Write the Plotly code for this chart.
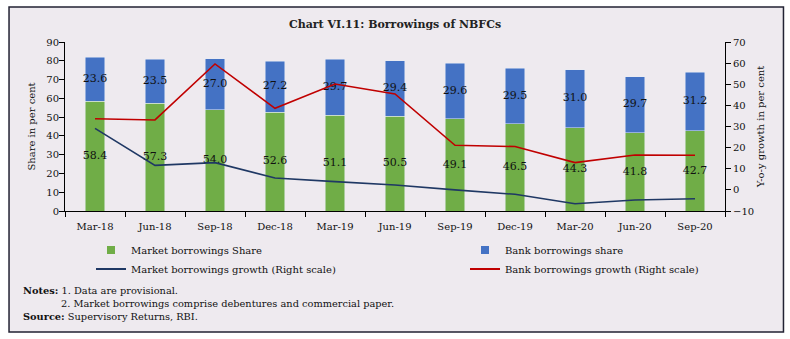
import plotly.graph_objects as go

# Quarter-end periods
periods = ["Mar-18", "Jun-18", "Sep-18", "Dec-18", "Mar-19", "Jun-19",
           "Sep-19", "Dec-19", "Mar-20", "Jun-20", "Sep-20"]

# Shares in total borrowings (per cent)
market_share = [58.4, 57.3, 54.0, 52.6, 51.1, 50.5, 49.1, 46.5, 44.3, 41.8, 42.7]
bank_share = [23.6, 23.5, 27.0, 27.2, 29.7, 29.4, 29.6, 29.5, 31.0, 29.7, 31.2]

# Year-on-year growth (per cent, right scale)
market_growth = [29.1, 11.6, 12.9, 5.6, 3.9, 2.3, 0.0, -2.1, -6.6, -4.8, -4.2]
bank_growth = [33.7, 33.1, 59.6, 38.6, 50.1, 45.4, 21.1, 20.5, 12.9, 16.5, 16.4]

GREEN = "#70AD47"
BLUE = "#4472C4"
NAVY = "#1F3864"
RED = "#C00000"
BG = "#EEEAEF"
FONT = "DejaVu Serif"

fig = go.Figure()

fig.add_trace(go.Bar(x=periods, y=market_share, marker_color=GREEN, width=0.32,
                     name="Market borrowings Share", showlegend=False))
fig.add_trace(go.Bar(x=periods, y=bank_share, marker_color=BLUE, width=0.32,
                     name="Bank borrowings share", showlegend=False))

# Value labels centred in each stacked segment
fig.add_trace(go.Scatter(
    x=periods, y=[m / 2 for m in market_share], mode="text",
    text=[f"{v:.1f}" for v in market_share],
    textfont=dict(family=FONT, size=11, color="#111111"),
    showlegend=False, hoverinfo="skip"))
fig.add_trace(go.Scatter(
    x=periods, y=[m + b / 2 for m, b in zip(market_share, bank_share)], mode="text",
    text=[f"{v:.1f}" for v in bank_share],
    textfont=dict(family=FONT, size=11, color="#111111"),
    showlegend=False, hoverinfo="skip"))

fig.add_trace(go.Scatter(x=periods, y=market_growth, yaxis="y2", mode="lines",
                         line=dict(color=NAVY, width=1.6), showlegend=False,
                         name="Market borrowings growth (Right scale)"))
fig.add_trace(go.Scatter(x=periods, y=bank_growth, yaxis="y2", mode="lines",
                         line=dict(color=RED, width=1.6), showlegend=False,
                         name="Bank borrowings growth (Right scale)"))

# Legend entries: market series in the left legend, bank series in the right one
fig.add_trace(go.Scatter(x=[None], y=[None], mode="markers",
                         marker=dict(symbol="square", size=8, color=GREEN),
                         name="Market borrowings Share", legend="legend"))
fig.add_trace(go.Scatter(x=[None], y=[None], mode="lines",
                         line=dict(color=NAVY, width=2),
                         name="Market borrowings growth (Right scale)", legend="legend"))
fig.add_trace(go.Scatter(x=[None], y=[None], mode="markers",
                         marker=dict(symbol="square", size=8, color=BLUE),
                         name="Bank borrowings share", legend="legend2"))
fig.add_trace(go.Scatter(x=[None], y=[None], mode="lines",
                         line=dict(color=RED, width=2),
                         name="Bank borrowings growth (Right scale)", legend="legend2"))

axis_font = dict(family=FONT, size=10, color="#111111")
legend_font = dict(family=FONT, size=10, color="#111111")
legend_y = (211 - 235.5) / 169

fig.update_layout(
    width=790, height=339,
    margin=dict(l=65, r=65, t=42, b=128),
    paper_bgcolor="white",
    plot_bgcolor=BG,
    barmode="stack",
    font=dict(family=FONT, size=10, color="#111111"),
    title=dict(text="<b>Chart VI.11: Borrowings of NBFCs</b>",
               x=0.5, xanchor="center", y=0.93, yanchor="middle",
               font=dict(family=FONT, size=11, color="#222222")),
    xaxis=dict(type="category", range=[-0.5, 10.5], tickson="boundaries",
               ticks="outside", ticklen=5, tickcolor="black",
               showline=True, linecolor="black", linewidth=1,
               showgrid=False, tickfont=axis_font, ticklabelstandoff=6),
    yaxis=dict(range=[0, 90], dtick=10, ticks="outside", ticklen=5,
               tickcolor="black", showline=True, linecolor="black",
               showgrid=False, zeroline=False, tickfont=axis_font,
               ticklabelstandoff=-2,
               title=dict(text="Share in per cent", font=axis_font, standoff=8)),
    yaxis2=dict(range=[-10, 70], dtick=10, overlaying="y", side="right",
                ticks="outside", ticklen=5, tickcolor="black",
                showline=True, linecolor="black", showgrid=False,
                zeroline=False, tickfont=axis_font,
                title=dict(text="Y-o-y growth in per cent", font=axis_font, standoff=3)),
    legend=dict(orientation="v", x=(91 - 65) / 660, xanchor="left",
                y=legend_y, yanchor="top", traceorder="normal",
                font=legend_font, bgcolor="rgba(0,0,0,0)", itemwidth=30),
    legend2=dict(orientation="v", x=(465 - 65) / 660, xanchor="left",
                 y=legend_y, yanchor="top", traceorder="normal",
                 font=legend_font, bgcolor="rgba(0,0,0,0)", itemwidth=30),
    shapes=[dict(type="rect", xref="paper", yref="paper",
                 x0=-0.0848, x1=1.0886, y0=-0.716, y1=1.207,
                 fillcolor=BG, line=dict(color="#222233", width=1.5),
                 layer="below")],
)

notes = [
    ("<b>Notes:</b> 1. Data are provisional.", 21, 290),
    ("2. Market borrowings comprise debentures and commercial paper.", 59, 303.3),
    ("<b>Source:</b> Supervisory Returns, RBI.", 21, 316.7),
]
for text, px, py in notes:
    fig.add_annotation(text=text, xref="paper", yref="paper",
                       x=(px - 65) / 660, y=(211 - py) / 169,
                       xanchor="left", yanchor="middle", showarrow=False,
                       font=dict(family=FONT, size=9.8, color="#111111"))

fig.write_html("out.html")
